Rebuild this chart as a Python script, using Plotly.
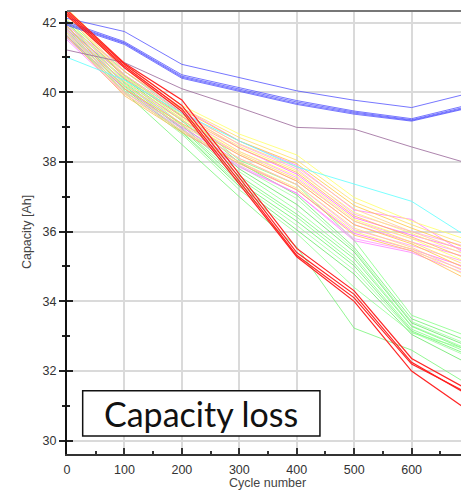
import plotly.graph_objects as go

# Cycle checkpoints at which capacity was measured
cycles = [0, 100, 200, 300, 400, 500, 600, 700]

# Capacity [Ah] per cell, grouped by test condition
blue_runs = [
    [42.12, 41.74, 40.80, 40.42, 40.04, 39.77, 39.56, 39.97],
    [42.02, 41.45, 40.50, 40.12, 39.76, 39.46, 39.24, 39.64],
    [41.98, 41.42, 40.46, 40.09, 39.72, 39.43, 39.21, 39.60],
    [41.95, 41.40, 40.43, 40.06, 39.68, 39.40, 39.19, 39.57],
    [41.92, 41.37, 40.40, 40.03, 39.65, 39.37, 39.17, 39.55],
]
purple_runs = [
    [41.21, 40.85, 40.10, 39.56, 38.99, 38.94, 38.43, 37.95],
]
cyan_runs = [
    [41.00, 40.35, 39.40, 38.60, 37.86, 37.36, 36.87, 35.82],
]
green_runs = [
    [42.05, 40.60, 39.40, 38.05, 37.35, 35.75, 33.60, 32.98],
    [42.00, 40.48, 39.32, 37.98, 37.05, 35.55, 33.50, 32.85],
    [41.95, 40.45, 39.22, 37.88, 36.95, 35.48, 33.42, 32.75],
    [41.88, 40.38, 39.18, 37.80, 36.78, 35.42, 33.38, 32.70],
    [41.85, 40.35, 39.08, 37.72, 36.62, 35.30, 33.30, 32.62],
    [41.80, 40.28, 39.05, 37.60, 36.50, 35.22, 33.28, 32.58],
    [41.74, 40.25, 38.98, 37.52, 36.42, 35.10, 33.20, 32.52],
    [41.70, 40.18, 38.95, 37.42, 36.30, 35.02, 33.15, 32.45],
    [41.65, 40.15, 38.88, 37.36, 36.18, 34.90, 33.12, 32.40],
    [41.60, 40.10, 38.85, 37.30, 36.05, 34.78, 33.05, 32.20],
    [41.55, 40.05, 38.80, 37.20, 35.95, 34.40, 33.10, 32.60],
    [41.62, 40.00, 38.50, 37.00, 35.56, 33.23, 32.60, 31.60],
]
yellow_runs = [
    [42.40, 40.80, 39.62, 38.80, 38.20, 36.98, 36.30, 35.75],
    [42.38, 40.70, 39.55, 38.70, 38.05, 36.85, 36.20, 35.60],
    [42.35, 40.60, 39.50, 38.60, 37.95, 36.75, 36.10, 35.50],
    [42.30, 40.50, 39.40, 38.52, 37.85, 36.65, 36.00, 35.40],
    [42.25, 40.45, 39.35, 38.45, 37.75, 36.55, 35.95, 35.30],
    [42.20, 40.40, 39.30, 38.40, 37.70, 36.45, 35.85, 35.20],
    [42.10, 40.30, 39.25, 38.30, 37.60, 36.35, 35.80, 35.10],
    [42.00, 40.20, 39.20, 38.25, 37.50, 36.30, 35.70, 35.00],
    [41.90, 40.10, 39.10, 38.20, 37.45, 36.20, 35.65, 34.90],
    [41.80, 40.00, 39.05, 38.10, 37.35, 36.10, 35.55, 34.80],
    [41.70, 39.95, 38.90, 38.00, 37.25, 36.00, 35.50, 34.70],
    [41.60, 39.90, 38.85, 37.95, 37.20, 35.90, 35.45, 34.60],
]
pink_runs = [
    [41.90, 40.70, 39.55, 38.60, 37.90, 36.62, 36.35, 35.30],
    [41.85, 40.60, 39.45, 38.50, 37.80, 36.50, 36.00, 35.55],
    [41.80, 40.50, 39.40, 38.40, 37.65, 36.40, 35.90, 35.45],
    [41.75, 40.40, 39.30, 38.30, 37.55, 36.30, 35.80, 35.35],
    [41.70, 40.30, 39.20, 38.20, 37.45, 36.20, 35.70, 35.25],
    [41.65, 40.20, 39.10, 38.10, 37.35, 36.05, 35.60, 35.10],
    [41.60, 40.10, 39.00, 38.00, 37.20, 35.95, 35.50, 34.95],
    [41.55, 40.00, 38.95, 37.90, 37.10, 35.80, 35.45, 34.85],
    [41.50, 39.95, 38.90, 37.85, 37.10, 35.74, 35.40, 34.75],
]
red_runs = [
    [42.36, 40.83, 39.78, 37.65, 35.52, 34.30, 32.36, 31.45],
    [42.30, 40.80, 39.62, 37.55, 35.40, 34.20, 32.25, 31.30],
    [42.25, 40.75, 39.52, 37.45, 35.32, 34.10, 32.20, 31.35],
    [42.20, 40.70, 39.45, 37.35, 35.28, 34.00, 32.00, 30.85],
]

y_ticks = [30, 32, 34, 36, 38, 40, 42]
x_ticks = [0, 100, 200, 300, 400, 500, 600, 700]

green_cols = ["#7dff7d", "#66f066", "#99ff99", "#5ce65c", "#8cff8c", "#70f570"]
yellow_cols = ["#ffff66", "#ffe066", "#ffc844", "#ffd48a", "#fff070", "#ffbe55"]
pink_cols = ["#ff77ff", "#ff99f0", "#ff5cff", "#ff8cff"]

fig = go.Figure()


def add_group(runs, colors, width, opacity):
    for i, vals in enumerate(runs):
        fig.add_trace(go.Scatter(
            x=cycles, y=vals, mode="lines",
            line=dict(color=colors[i % len(colors)], width=width),
            opacity=opacity, hoverinfo="skip", showlegend=False,
        ))


add_group(green_runs, green_cols, 1.0, 0.75)
add_group(pink_runs, pink_cols, 1.0, 0.75)
add_group(yellow_runs, yellow_cols, 1.0, 0.8)
add_group(cyan_runs, ["#66ffff"], 1.0, 0.85)
add_group(purple_runs, ["#a070a0"], 1.0, 0.85)
add_group(blue_runs, ["#4a4aff"], 1.0, 0.75)
add_group(red_runs, ["#ff1a1a"], 1.2, 0.95)

# invisible helper trace for the second (inner-tick) y axis
fig.add_trace(go.Scatter(x=[None], y=[None], yaxis="y2", showlegend=False, hoverinfo="skip"))

tick_font = dict(family="Liberation Sans, Arial, sans-serif", size=12.5, color="#333333")
title_font = dict(family="Liberation Sans, Arial, sans-serif", size=12.5, color="#444444")

fig.update_layout(
    width=461, height=490,
    margin=dict(l=67, r=0, t=11, b=36),
    paper_bgcolor="white", plot_bgcolor="white",
    showlegend=False,
    xaxis=dict(
        range=[0, 686], tickvals=x_ticks, ticktext=[str(v) for v in x_ticks],
        showgrid=True, gridcolor="#dadada", gridwidth=1.5,
        showline=True, linecolor="#333333", linewidth=2,
        ticks="inside", ticklen=6, tickwidth=1.5, tickcolor="#333333",
        minor=dict(dtick=50, tick0=0, ticks="inside", ticklen=3, tickcolor="#333333", showgrid=False),
        tickfont=tick_font, ticklabelstandoff=3, zeroline=False,
    ),
    yaxis=dict(
        range=[29.62, 42.33], tickvals=y_ticks,
        showgrid=True, gridcolor="#dadada", gridwidth=1.5,
        showline=True, linecolor="#111111", linewidth=2,
        ticks="outside", ticklen=6, tickwidth=1.5, tickcolor="#222222",
        minor=dict(dtick=1, tick0=0, ticks="outside", ticklen=3, tickcolor="#222222", showgrid=False),
        tickfont=tick_font, zeroline=False,
    ),
    yaxis2=dict(
        overlaying="y", side="left", range=[29.62, 42.33], tickvals=y_ticks,
        showgrid=False, showline=False, showticklabels=False, zeroline=False,
        ticks="inside", ticklen=6, tickwidth=1.5, tickcolor="#222222",
        minor=dict(dtick=1, tick0=0, ticks="inside", ticklen=3, tickcolor="#222222"),
    ),
    shapes=[
        dict(type="line", xref="paper", yref="paper", x0=0, x1=1, y0=1, y1=1,
             line=dict(color="#777777", width=2), layer="above"),
        dict(type="rect", xref="paper", yref="paper",
             x0=0.0398, x1=0.642, y0=0.0406, y1=0.1429,
             fillcolor="white", line=dict(color="#111111", width=1.5), layer="above"),
    ],
    annotations=[
        dict(text="Capacity loss", xref="paper", yref="paper", x=0.3408, y=0.0918,
             xanchor="center", yanchor="middle", showarrow=False,
             font=dict(family="Lato, sans-serif", size=34, color="#111111")),
        dict(text="Capacity [Ah]", xref="paper", yref="paper", x=-0.1015, y=0.501,
             xanchor="center", yanchor="middle", textangle=-90, showarrow=False,
             font=title_font),
        dict(text="Cycle number", xref="paper", yref="paper", x=0.51, y=-0.0655,
             xanchor="center", yanchor="middle", showarrow=False,
             font=title_font),
    ],
)

fig.write_html("out.html")
